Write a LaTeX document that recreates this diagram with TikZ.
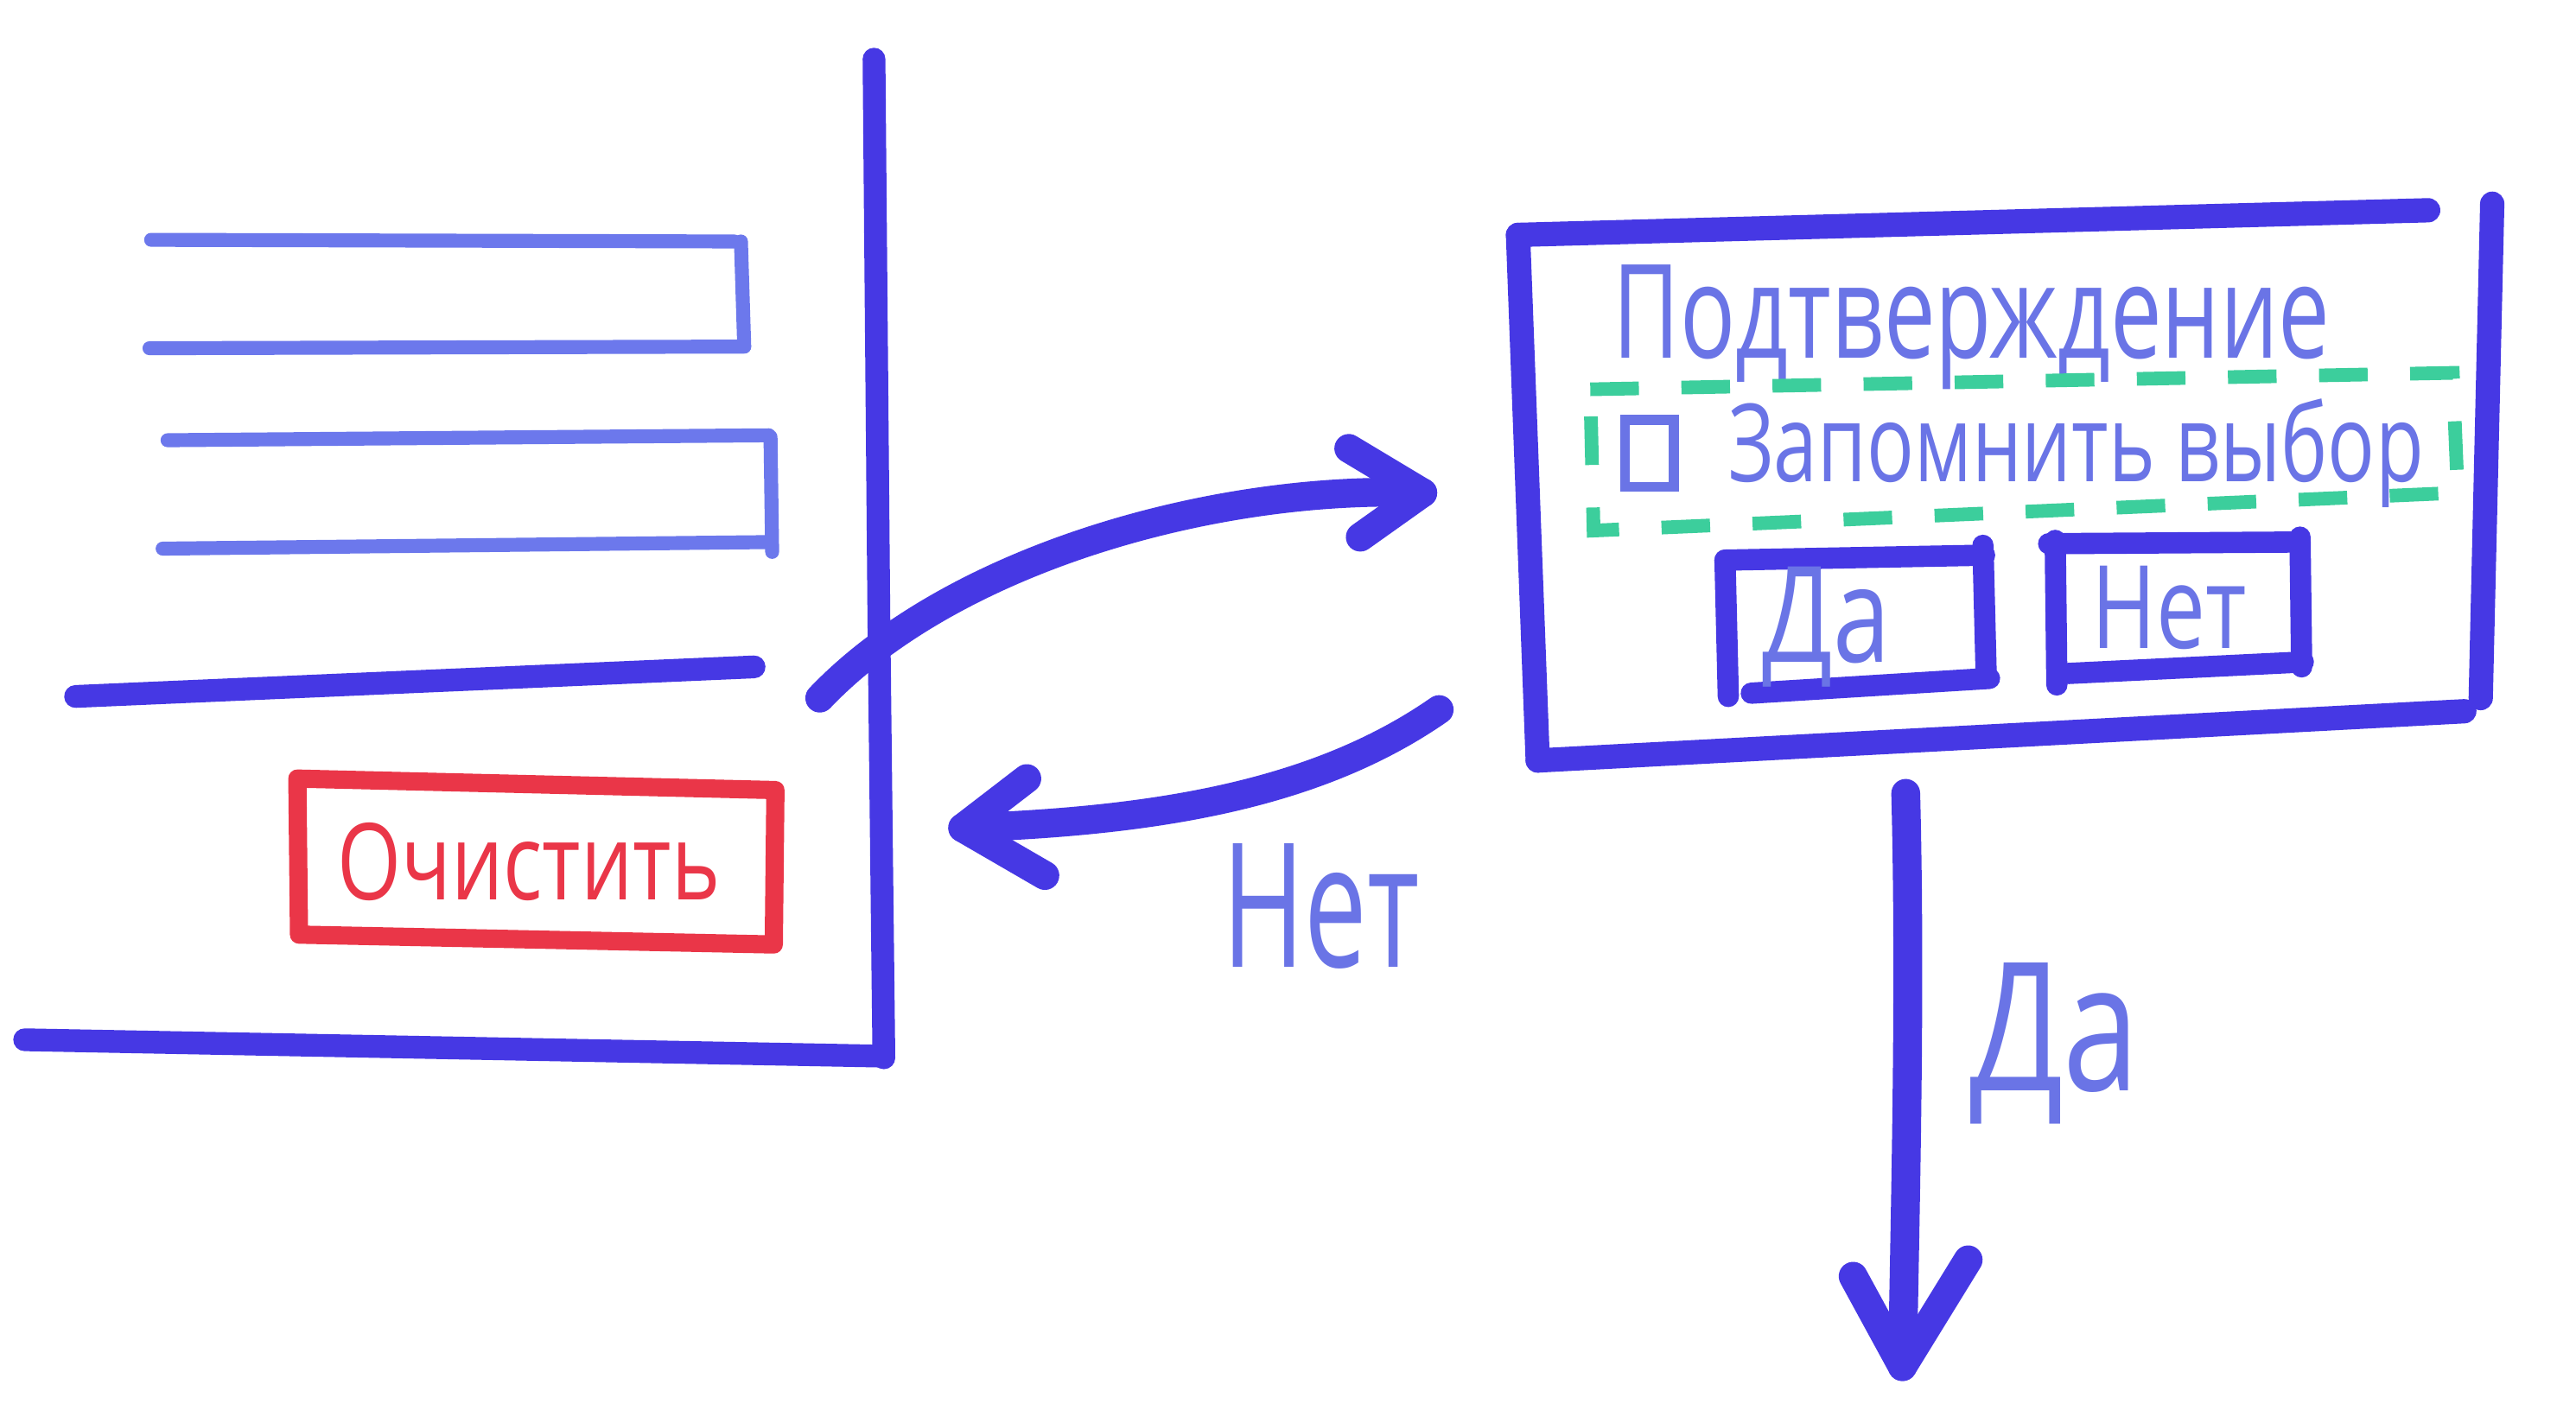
\documentclass[tikz,border=0pt]{standalone}
\usepackage{fontspec}
\usepackage{graphicx}
\newfontfamily\hand{Open Sans}
\definecolor{penblue}{RGB}{70,56,228}
\definecolor{textblue}{RGB}{106,116,230}
\definecolor{lineblue}{RGB}{108,120,236}
\definecolor{penred}{RGB}{234,54,72}
\definecolor{pengreen}{RGB}{60,206,156}
\newcommand\fitw[2]{\resizebox{#1}{\height}{#2}}
\tikzset{
  thickpen/.style={draw=penblue,line width=7.5pt,line cap=round,line join=round},
  boxpen/.style={draw=penblue,line width=8pt,line cap=round,line join=round},
  arrowpen/.style={draw=penblue,line width=9.5pt,line cap=round,line join=round},
  fieldpen/.style={draw=lineblue,line width=4.6pt,line cap=round,line join=round},
  redpen/.style={draw=penred,line width=6pt,line cap=round,line join=round},
  btnpen/.style={draw=penblue,line width=7pt,line cap=round,line join=round},
  greenpen/.style={draw=pengreen,line width=4.5pt,dash pattern=on 16pt off 14pt},
  hw/.style={anchor=base west,inner sep=0pt,outer sep=0pt,text=textblue},
}
\begin{document}
\begin{tikzpicture}[x=0.01901cm,y=-0.01901cm]
\useasboundingbox (0,0) rectangle (1568,858);
\fill[white] (0,0) rectangle (1568,858);

% ---------- left panel ----------
\draw[thickpen] (532,36) -- (535,380) -- (538,644);
\draw[thickpen] (15,633) -- (538,643);
\draw[thickpen] (46,424) -- (459,406);
% form fields
\draw[fieldpen] (92,146) -- (447,147);
\draw[fieldpen] (451,147) -- (453,211);
\draw[fieldpen] (91,212) -- (453,211);
\draw[fieldpen] (102,268) -- (468,265);
\draw[fieldpen] (469,266) -- (470,336);
\draw[fieldpen] (99,334) -- (469,330);
% red button
\draw[redpen] (181,474) -- (472,481) -- (471,575) -- (182,569) -- cycle;
\node[anchor=base west,inner sep=0pt,text=penred,font=\hand\fontsize{35pt}{35pt}\selectfont] (clear) at (205,548) {\fitw{126pt}{Очистить}};

% ---------- dialog ----------
\coordinate (dTL) at (924,143);
\coordinate (dTR) at (1478,128);
\coordinate (dRT) at (1517,124);
\coordinate (dRB) at (1510,425);
\coordinate (dBL) at (936,463);
\coordinate (dBR) at (1500,433);
\draw[boxpen] (dTL) -- (dTR);
\draw[boxpen] (dRT) -- (dRB);
\draw[boxpen] (dBL) -- (dBR);
\draw[boxpen] (dTL) -- (dBL);

\node[hw,font=\hand\fontsize{43pt}{43pt}\selectfont] (title) at (982,218) {\fitw{236pt}{Подтверждение}};

% remember choice (green dashed)
\draw[greenpen] (968,237) -- (1493,227) -- (1496,300) -- (970,323) -- cycle;
\node[draw=textblue,line width=3.2pt,minimum width=16pt,minimum height=22pt,inner sep=0pt] (chk) at (1004,276) {};
\node[hw,font=\hand\fontsize{35.6pt}{35.6pt}\selectfont] (remember) at (1052,293) {\fitw{229pt}{Запомнить выбор}};

% buttons
\draw[btnpen] (1050,341) -- (1208,338);
\draw[btnpen] (1207,332) -- (1209,412);
\draw[btnpen] (1066,422) -- (1211,413);
\draw[btnpen] (1050,341) -- (1052,424);
\node[hw,font=\hand\fontsize{44pt}{44pt}\selectfont] (yesbtn) at (1073,403) {\fitw{42pt}{Да}};

\draw[btnpen] (1247,331) -- (1396,330);
\draw[btnpen] (1400,327) -- (1401,406);
\draw[btnpen] (1259,410) -- (1402,403);
\draw[btnpen] (1251,329) -- (1252,417);
\node[hw,font=\hand\fontsize{38pt}{38pt}\selectfont] (nobtn) at (1273,395) {\fitw{51pt}{Нет}};

% ---------- arrows ----------
\coordinate (a1s) at (499,425);
\coordinate (a1t) at (866,300);
\draw[arrowpen] (a1s) .. controls (580,340) and (740,295) .. (a1t);
\draw[arrowpen] (821,273) -- (a1t) -- (828,327);

\coordinate (a2s) at (876,432);
\coordinate (a2t) at (586,504);
\draw[arrowpen] (a2s) .. controls (800,485) and (700,500) .. (a2t);
\draw[arrowpen] (625,474) -- (a2t) -- (636,533);
\node[hw,font=\hand\fontsize{57pt}{57pt}\selectfont] (nolabel) at (744,589) {\fitw{65pt}{Нет}};

\coordinate (a3s) at (1160,483);
\coordinate (a3t) at (1158,832);
\draw[arrowpen] (a3s) .. controls (1163,600) and (1160,720) .. (a3t);
\draw[arrowpen] (1128,777) -- (a3t) -- (1198,767);
\node[hw,font=\hand\fontsize{59pt}{59pt}\selectfont] (yeslabel) at (1199,664) {\fitw{56pt}{Да}};
\end{tikzpicture}
\end{document}
